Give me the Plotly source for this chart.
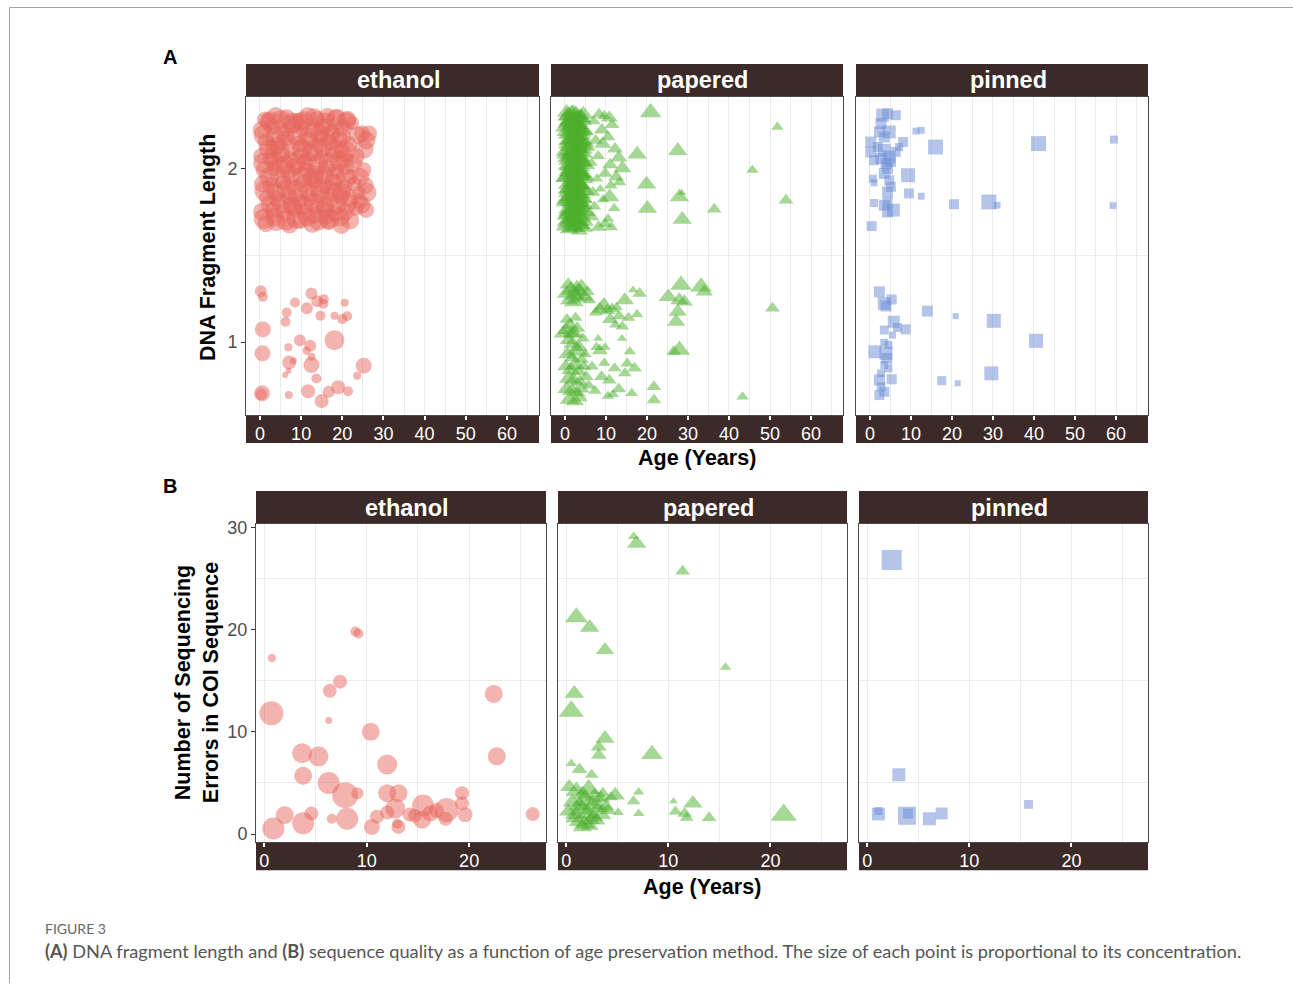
import math
import plotly.graph_objects as go

# ---------------- DATA ----------------
methods = ["ethanol", "papered", "pinned"]
x_ticks_a = [0, 10, 20, 30, 40, 50, 60]
y_ticks_a = [1, 2]
x_ticks_b = [0, 10, 20]
y_ticks_b = [0, 10, 20, 30]

# Panel A : DNA fragment length (jittered categories 1 / 2) vs age; conc = concentration
eth_a_age = [1.2, 3.8, 6.5, 8.9, 11.6, 13.8, 16.4, 18.7, 21.3,
             0.4, 2.9, 5.4, 7.7, 10.3, 12.9, 15.2, 17.5, 20.1, 22.4, 24.8,
             1.5, 4.1, 6.2, 9.4, 11.9, 14.3, 16.8, 19.2, 21.6, 25.9,
             0.3, 2.6, 5.0, 7.5, 10.1, 12.4, 15.0, 17.9, 20.4, 23.5,
             1.1, 3.6, 6.8, 8.6, 11.2, 13.6, 16.1, 18.5, 21.0, 25.1,
             0.6, 2.8, 5.6, 8.1, 10.6, 13.1, 15.6, 17.8, 20.5, 22.9, 25.6,
             1.7, 4.4, 6.9, 9.6, 12.0, 14.6, 17.1, 19.6, 21.8, 24.2,
             0.5, 3.1, 5.8, 8.3, 10.8, 13.3, 15.9, 18.3, 20.9, 23.3, 25.8,
             1.4, 4.0, 7.2, 9.9, 12.7, 16.6, 19.8,
             2.0, 9.8, 14.8, 19.9, 4.8, 12.3, 18.0, 7.6, 16.2, 22.0, 3.3, 10.9, 24.0, 26.5, 14.0,
             2.4, 5.1, 7.9, 10.5, 13.2, 15.8, 18.4, 21.0,
             1.0, 3.7, 6.3, 9.0, 11.7, 14.4, 17.0, 19.7, 23.8,
             2.2, 4.9, 7.6, 10.2, 12.9, 15.5, 18.2, 20.8, 25.3,
             0.9, 3.5, 6.1, 8.8, 11.4, 14.1, 16.7, 19.3, 22.6,
             2.3, 5.0, 7.7, 10.3, 13.0, 15.6, 18.3, 20.9, 24.4,
             1.2, 3.9, 6.5, 9.2, 11.8, 14.5, 17.1, 19.8, 26.0,
             2.6, 5.2, 7.9, 10.5, 13.2, 15.8, 18.5, 21.1, 24.7,
             1.0, 3.6, 6.3, 8.9, 11.5, 14.2, 16.8, 19.5, 21.9,
             0.2, 0.7, 8.5, 12.5, 13.9, 15.5, 15.4, 20.6, 6.5, 11.4, 14.7, 18.1, 20.0, 21.2, 6.2,
             0.7, 18.1, 9.7, 12.2, 6.9, 11.3, 0.6, 7.1, 8.1, 12.5, 12.5, 6.9, 6.1, 25.2, 23.6,
             13.7, 0.5, 0.3, 7.0, 11.7, 15.0, 16.7, 19.0, 21.4]
eth_a_len = [2.28, 2.30, 2.29, 2.27, 2.30, 2.28, 2.30, 2.29, 2.28,
             2.22, 2.24, 2.21, 2.25, 2.23, 2.22, 2.24, 2.21, 2.23, 2.26, 2.20,
             2.15, 2.13, 2.17, 2.14, 2.16, 2.13, 2.15, 2.17, 2.14, 2.16,
             2.07, 2.06, 2.08, 2.05, 2.07, 2.09, 2.06, 2.08, 2.05, 2.07,
             1.99, 2.00, 1.98, 2.01, 1.99, 1.97, 2.00, 1.98, 2.01, 1.99,
             1.91, 1.90, 1.92, 1.89, 1.91, 1.93, 1.90, 1.92, 1.89, 1.91, 1.90,
             1.83, 1.82, 1.84, 1.81, 1.83, 1.85, 1.82, 1.84, 1.83, 1.81,
             1.75, 1.76, 1.74, 1.77, 1.75, 1.73, 1.76, 1.74, 1.75, 1.77, 1.76,
             1.68, 1.69, 1.67, 1.70, 1.68, 1.69, 1.67,
             2.27, 2.27, 2.18, 2.10, 2.02, 1.95, 1.87, 1.79, 1.72, 1.95, 2.12, 2.03, 1.86, 2.20, 1.78,
             2.27, 2.28, 2.26, 2.27, 2.29, 2.26, 2.28, 2.27,
             2.19, 2.18, 2.20, 2.19, 2.18, 2.20, 2.19, 2.18, 2.19,
             2.11, 2.10, 2.12, 2.11, 2.10, 2.12, 2.11, 2.10, 2.11,
             2.03, 2.04, 2.02, 2.03, 2.04, 2.02, 2.03, 2.04, 2.03,
             1.95, 1.94, 1.96, 1.95, 1.94, 1.96, 1.95, 1.94, 1.95,
             1.87, 1.86, 1.88, 1.87, 1.86, 1.88, 1.87, 1.86, 1.86,
             1.79, 1.80, 1.78, 1.79, 1.80, 1.78, 1.79, 1.80, 1.79,
             1.71, 1.72, 1.70, 1.71, 1.72, 1.70, 1.71, 1.72, 1.70,
             1.293, 1.26, 1.228, 1.28, 1.235, 1.247, 1.22, 1.226, 1.17, 1.194, 1.151, 1.151, 1.132, 1.149, 1.117,
             1.073, 1.011, 1.011, 0.979, 0.97, 0.95, 0.935, 0.883, 0.892, 0.868, 0.916, 0.835, 0.81, 0.864, 0.806,
             0.79, 0.705, 0.70, 0.695, 0.717, 0.661, 0.714, 0.74, 0.717]
eth_a_conc = [64, 81, 72, 64, 81, 72, 64, 81, 72,
              81, 64, 72, 81, 64, 72, 81, 64, 72, 49, 64,
              72, 81, 64, 72, 81, 64, 72, 81, 64, 81,
              64, 72, 81, 64, 72, 81, 64, 72, 81, 64,
              81, 64, 72, 81, 64, 72, 81, 64, 72, 64,
              72, 81, 64, 72, 81, 64, 72, 81, 64, 56, 72,
              64, 72, 81, 64, 72, 81, 64, 72, 81, 64,
              81, 64, 72, 81, 64, 72, 81, 64, 72, 56, 64,
              72, 81, 64, 72, 81, 64, 72,
              64, 72, 64, 72, 64, 72, 64, 72, 64, 56, 72, 64, 49, 64, 64,
              100, 90, 110, 100, 90, 110, 100, 90,
              110, 100, 90, 110, 100, 90, 110, 100, 81,
              100, 110, 90, 100, 110, 90, 100, 110, 90,
              110, 90, 100, 110, 90, 100, 110, 90, 81,
              100, 110, 90, 100, 110, 90, 100, 110, 81,
              110, 90, 100, 110, 90, 100, 110, 90, 90,
              100, 110, 90, 100, 110, 90, 100, 110, 81,
              110, 90, 100, 110, 90, 100, 110, 90, 81,
              36, 25, 25, 36, 36, 25, 25, 16, 25, 36, 25, 16, 25, 25, 25,
              64, 100, 36, 36, 16, 16, 64, 49, 12, 64, 16, 9, 9, 64, 16,
              25, 64, 36, 16, 49, 49, 36, 49, 25]

pap_a_age = [0.4, 1.6, 2.7, 3.8, 1.0, 2.2, 3.4, 4.6, 0.3, 1.5, 2.8, 4.0, 5.2,
             0.8, 2.0, 3.2, 4.4, 5.6, 0.2, 1.4, 2.6, 3.7, 4.9, 0.9, 2.1, 3.3, 4.5,
             0.3, 1.6, 2.8, 4.0, 5.3, 0.7, 1.9, 3.1, 4.3, 0.2, 1.3, 2.5, 3.6, 4.8,
             0.8, 2.0, 3.2, 4.4, 0.3, 1.5, 2.7, 3.9, 5.0, 1.1, 2.3, 3.5,
             1.2, 2.4, 3.0, 1.8, 2.9, 1.9, 0.6, 4.1, 3.5, 0.5,
             0.9, 2.1, 3.3, 4.5, 0.4, 1.8, 3.0, 4.3, 0.9, 2.2, 3.5, 4.8, 0.5, 1.8, 3.1, 4.3,
             0.9, 2.4, 3.6, 5.0, 0.4, 1.9, 3.2, 4.5, 1.0, 2.3, 3.5, 4.9, 0.5, 1.8, 3.1, 4.4,
             1.0, 2.4, 3.6, 5.2, 0.5, 2.0, 3.3, 4.4,
             1.4, 2.7, 3.9, 1.2, 2.5, 3.8, 1.5, 2.8, 4.0, 1.3, 2.6, 3.9, 1.4, 2.7, 4.0,
             1.2, 2.5, 3.8, 1.5, 2.8, 4.1, 1.3, 2.6, 3.7, 1.4, 2.9, 0.7, 0.6, 0.8, 0.5,
             2.0, 3.2, 1.7, 2.9, 2.1, 3.4, 1.8, 3.0, 2.2, 3.3, 1.9, 3.1, 2.0, 3.5,
             8.3, 9.6, 10.8, 11.5, 7.0, 9.0, 7.5, 9.2, 10.5, 12.2, 13.1, 8.1, 11.0, 14.0,
             6.5, 9.8, 12.5, 7.8, 11.2, 8.6, 6.8, 13.3, 9.3, 7.2, 12.0, 6.6, 8.2, 9.8, 11.3, 10.5,
             20.9, 51.8, 17.6, 27.5, 45.7, 19.9, 10.9, 27.9, 28.5, 53.9, 20.1, 36.4, 28.6,
             0.4, 1.5, 2.6, 3.5, 4.0, 4.8, 1.0, 2.2, 3.2, 5.5, 6.0, 0.8, 2.9,
             8.5, 9.5, 10.3, 11.5, 7.5, 12.6, 13.2, 11.0, 14.6, 16.6, 18.2, 15.5, 17.6, 14.0, 12.3,
             0.3, 1.2, 2.2, 3.0, 0.8, 1.9, -0.4, 1.6, 2.8, 3.5, 0.6, 1.8, 4.0, 2.5, 0.2, 1.4,
             3.3, 4.6, 0.9, 2.1, 3.6, 5.2, 0.4, 1.7, 2.9, 4.1, 5.8, 1.1, 2.4, 3.6, 0.5, 2.6, 4.4, 5.0,
             8.1, 8.5, 7.7, 9.8, 8.9, 7.3, 10.5, 11.7, 13.1, 12.1, 13.9, 15.8, 15.2, 17.0, 14.6,
             6.6, 9.6, 10.8, 16.3, 21.7, 21.7,
             28.3, 33.2, 34.0, 25.2, 27.9, 29.1, 27.5, 27.1, 27.9, 26.5, 50.6, 43.3]
pap_a_len = [2.32, 2.32, 2.31, 2.30, 2.27, 2.28, 2.25, 2.27, 2.21, 2.20, 2.22, 2.19, 2.21,
             2.14, 2.15, 2.13, 2.16, 2.12, 2.08, 2.07, 2.09, 2.06, 2.08, 2.01, 2.02, 2.00, 2.03,
             1.95, 1.96, 1.94, 1.97, 1.95, 1.88, 1.89, 1.87, 1.90, 1.82, 1.81, 1.83, 1.80, 1.82,
             1.75, 1.76, 1.74, 1.77, 1.69, 1.68, 1.70, 1.67, 1.69, 1.65, 1.66, 1.64,
             2.24, 2.18, 2.05, 1.92, 1.79, 1.71, 1.98, 1.85, 2.11, 2.30,
             2.30, 2.31, 2.29, 2.31, 2.24, 2.23, 2.24, 2.22, 2.16, 2.17, 2.16, 2.15, 2.10, 2.09, 2.10, 2.11,
             2.02, 2.03, 2.01, 2.02, 1.95, 1.94, 1.96, 1.94, 1.88, 1.87, 1.89, 1.87, 1.81, 1.80, 1.81, 1.79,
             1.74, 1.73, 1.74, 1.75, 1.67, 1.66, 1.68, 1.66,
             2.28, 2.27, 2.29, 2.20, 2.19, 2.21, 2.13, 2.12, 2.14, 2.05, 2.06, 2.04, 1.98, 1.99, 1.97,
             1.91, 1.92, 1.90, 1.84, 1.85, 1.83, 1.77, 1.78, 1.76, 1.71, 1.70, 2.26, 2.06, 1.86, 1.73,
             2.25, 2.23, 2.17, 2.15, 2.08, 2.07, 2.00, 1.98, 1.93, 1.91, 1.84, 1.82, 1.76, 1.72,
             2.31, 2.30, 2.29, 2.25, 2.27, 2.22, 2.16, 2.14, 2.18, 2.11, 2.06, 2.07, 2.02, 2.00,
             2.03, 1.97, 1.95, 1.94, 1.90, 1.88, 1.86, 1.92, 1.82, 1.78, 1.77, 1.72, 1.66, 1.68, 1.66, 1.71,
             2.32, 2.237, 2.08, 2.10, 1.99, 1.908, 1.835, 1.835, 1.858, 1.816, 1.769, 1.764, 1.705,
             1.28, 1.30, 1.27, 1.29, 1.32, 1.26, 1.24, 1.23, 1.25, 1.29, 1.24, 1.33, 1.31,
             1.19, 1.21, 1.18, 1.19, 1.17, 1.20, 1.15, 1.13, 1.24, 1.30, 1.28, 1.14, 1.16, 1.09, 1.10,
             1.07, 1.10, 1.05, 1.08, 1.01, 0.99, 1.05, 1.05, 0.95, 0.97, 0.93, 0.91, 0.90, 0.87, 0.86, 0.84,
             0.83, 0.86, 0.79, 0.78, 0.77, 0.80, 0.73, 0.72, 0.71, 0.73, 0.75, 0.67, 0.66, 0.68, 1.13, 1.14, 1.02, 0.93,
             1.02, 0.95, 0.97, 0.97, 0.80, 0.72, 0.69, 0.70, 0.73, 0.85, 1.02, 0.945, 0.877, 0.85, 0.82,
             0.86, 0.88, 0.78, 0.705, 0.743, 0.667,
             1.328, 1.318, 1.289, 1.26, 1.24, 1.232, 1.174, 1.117, 0.954, 0.945, 1.194, 0.686]
pap_a_conc = [72, 64, 72, 56, 81, 64, 72, 49, 72, 81, 64, 72, 49,
              81, 72, 64, 56, 49, 72, 81, 64, 72, 49, 72, 81, 64, 56,
              81, 72, 64, 72, 49, 72, 81, 64, 56, 72, 81, 72, 64, 49,
              81, 72, 64, 56, 72, 81, 72, 64, 56, 72, 64, 56,
              64, 72, 81, 72, 64, 72, 64, 64, 56, 64,
              90, 100, 81, 72, 100, 90, 100, 81, 90, 100, 90, 72, 100, 90, 100, 81,
              90, 100, 90, 72, 100, 90, 100, 81, 90, 100, 90, 72, 100, 90, 100, 81,
              90, 100, 90, 72, 100, 90, 100, 81,
              100, 110, 90, 110, 100, 90, 100, 110, 90, 110, 100, 90, 100, 110, 90,
              110, 100, 90, 100, 110, 90, 110, 100, 90, 100, 110, 81, 81, 81, 81,
              110, 100, 110, 100, 110, 100, 110, 100, 110, 100, 110, 100, 110, 100,
              42, 36, 56, 42, 36, 49, 42, 56, 42, 49, 56, 36, 49, 64,
              30, 42, 49, 30, 36, 25, 42, 36, 30, 36, 30, 42, 49, 42, 36, 30,
              90, 30, 72, 72, 30, 72, 72, 72, 16, 42, 72, 42, 72,
              72, 81, 90, 72, 64, 56, 64, 72, 56, 42, 36, 56, 72,
              56, 72, 49, 42, 36, 30, 42, 49, 64, 20, 42, 36, 30, 36, 30,
              64, 56, 72, 49, 56, 64, 72, 64, 90, 56, 64, 49, 42, 72, 56, 64,
              56, 42, 72, 64, 56, 42, 64, 72, 56, 49, 36, 72, 64, 49, 42, 36, 36, 30,
              20, 49, 30, 25, 42, 36, 30, 30, 42, 36, 20, 30, 36, 42, 36,
              36, 30, 42, 30, 42, 42,
              90, 90, 56, 72, 64, 56, 64, 64, 90, 42, 42, 30]

pin_a_age = [3.1, 4.3, 6.3, 2.7, 2.3, 4.7, 3.5, 11.2, 12.5, 0.2, 8.1, 16.0, 41.1, 59.5,
             0.2, 1.9, 3.5, 4.7, 6.3, 7.1, 2.7, 3.9, 5.1, 1.0, 4.3, 3.5, 9.3, 0.7, 1.0,
             4.7, 5.1, 4.3, 9.5, 12.5, 1.0, 3.5, 4.3, 5.7, 4.3, 20.5, 29.0, 31.0, 59.3, 0.4,
             2.3, 5.3, 3.5, 3.9, 14.0, 20.9, 30.2, 5.8, 6.7, 8.7, 3.5, 5.5, 40.5, 3.5, 4.5,
             1.2, 3.9, 4.1, 3.5, 4.5, 2.7, 29.6, 2.3, 5.3, 17.5, 21.4, 2.7, 3.5, 2.3]
pin_a_len = [2.305, 2.314, 2.305, 2.257, 2.209, 2.209, 2.18, 2.214, 2.218, 2.151, 2.151, 2.122, 2.142, 2.165,
             2.094, 2.122, 2.103, 2.065, 2.094, 2.122, 2.056, 2.027, 2.036, 2.046, 1.998, 1.97, 1.96, 1.94, 1.916,
             1.931, 1.893, 1.864, 1.855, 1.839, 1.80, 1.787, 1.806, 1.759, 1.749, 1.793, 1.806, 1.787, 1.785, 1.667,
             1.289, 1.245, 1.222, 1.207, 1.178, 1.149, 1.122, 1.117, 1.084, 1.073, 1.069, 1.04, 1.007, 0.996, 0.983,
             0.944, 0.935, 0.906, 0.868, 0.849, 0.82, 0.82, 0.782, 0.786, 0.778, 0.763, 0.743, 0.714, 0.695]
pin_a_conc = [42, 30, 25, 30, 30, 42, 30, 12, 12, 30, 25, 56, 56, 16,
              30, 25, 42, 42, 25, 16, 30, 30, 25, 25, 30, 30, 49, 16, 12,
              25, 25, 30, 25, 12, 16, 30, 25, 42, 30, 25, 56, 12, 12, 25,
              30, 25, 42, 30, 30, 9, 49, 36, 20, 25, 20, 12, 49, 16, 16,
              42, 42, 30, 16, 16, 16, 49, 30, 25, 20, 9, 20, 25, 25]

# Panel B : number of sequencing errors vs age
eth_b_age = [0.75, 8.9, 9.2, 0.7, 6.4, 7.4, 6.3, 10.4, 3.7, 5.3, 22.4, 22.7, 12.0, 3.8, 6.3,
             7.9, 9.1, 12.0, 13.1, 19.3, 19.3, 0.9, 2.0, 3.8, 4.6, 6.6, 8.1, 10.5, 11.0, 12.0,
             12.8, 13.1, 13.0, 14.2, 14.7, 15.4, 15.5, 16.2, 16.8, 17.7, 17.8, 19.6, 26.2]
eth_b_err = [17.2, 19.8, 19.6, 11.8, 14.0, 14.9, 11.1, 10.0, 7.9, 7.6, 13.7, 7.6, 6.8, 5.7, 5.0,
             3.8, 4.0, 4.0, 4.0, 4.0, 3.0, 0.55, 1.86, 1.05, 2.0, 1.5, 1.5, 0.7, 1.7, 2.1,
             2.5, 0.7, 1.0, 1.9, 1.8, 1.4, 2.8, 2.0, 2.3, 1.5, 2.35, 1.9, 1.95]
eth_b_conc = [16, 25, 25, 144, 49, 49, 12, 81, 100, 100, 81, 81, 100, 81, 121,
              169, 36, 81, 81, 49, 49, 121, 81, 121, 49, 25, 121, 64, 49, 49,
              100, 49, 25, 49, 49, 81, 121, 64, 56, 49, 144, 56, 49]

pap_b_age = [6.6, 6.9, 11.4, 1.0, 2.3, 3.8, 15.6, 0.8, 0.5, 3.8, 3.2, 3.2, 8.4, 0.5, 1.3, 2.5,
             4.8, 7.1, 6.6, 5.1, 7.1, 10.5, 12.4, 10.7, 11.6, 11.8, 14.0, 21.3,
             0.3, 1.0, 1.6, 2.2, 2.8, 3.4, 0.6, 1.3, 1.9, 2.6, 3.2, 3.9, 0.2, 0.9, 1.5,
             2.1, 2.7, 3.4, 4.1, 1.2, 1.8, 2.4, 3.0, 0.7, 1.6, 2.3, 4.4, 3.6]
pap_b_err = [29.1, 28.4, 25.7, 21.2, 20.2, 18.0, 16.3, 13.75, 12.0, 9.35, 8.5, 7.7, 7.8, 6.9, 6.3, 5.8,
             3.8, 4.1, 3.2, 2.1, 2.0, 3.2, 3.0, 2.2, 2.0, 1.6, 1.6, 1.86,
             4.6, 4.2, 3.9, 4.4, 3.7, 3.5, 3.1, 2.8, 3.3, 2.9, 2.6, 2.7, 2.2, 1.9, 2.4,
             2.0, 1.7, 1.9, 2.3, 1.2, 1.0, 1.4, 1.3, 1.5, 0.7, 0.8, 3.6, 4.0]
pap_b_conc = [25, 72, 42, 100, 72, 64, 25, 72, 121, 72, 49, 49, 90, 25, 49, 36,
              72, 25, 36, 25, 25, 16, 72, 36, 42, 36, 42, 132,
              64, 90, 72, 100, 81, 64, 72, 100, 121, 90, 81, 56, 64, 81, 90,
              100, 72, 81, 49, 72, 81, 64, 56, 49, 72, 64, 36, 42]

pin_b_age = [2.4, 3.1, 1.1, 1.1, 3.9, 4.0, 6.1, 7.3, 15.8]
pin_b_err = [26.8, 5.8, 1.95, 2.25, 1.8, 2.0, 1.5, 2.0, 2.9]
pin_b_conc = [100, 42, 42, 16, 81, 25, 42, 36, 20]

# ---------------- STYLE / LAYOUT ----------------
W, H = 1293, 985
STRIP = "#3b2a27"
FONT = "Liberation Sans, Arial, sans-serif"
colors = {"ethanol": "#E8675E", "papered": "#4CAF2C", "pinned": "#6B8CD5"}
symbols = {"ethanol": "circle", "papered": "triangle-up", "pinned": "square"}

rows = {
    "A": dict(xpx=[(246, 539), (551, 843), (856, 1148)], plot=(97, 415), strip=(64, 97), band=(415, 443),
              xrange=[-3.4, 67.8], yrange=[0.58, 2.41], xticks=x_ticks_a, yticks=y_ticks_a,
              ydtick=1, ytick0=1, yminor=0.5, xminor=5),
    "B": dict(xpx=[(256, 546), (558, 847), (859, 1148)], plot=(524, 842), strip=(491, 524), band=(842, 870),
              xrange=[-0.8, 27.5], yrange=[-0.8, 30.3], xticks=x_ticks_b, yticks=y_ticks_b,
              ydtick=10, ytick0=0, yminor=5, xminor=5),
}

data = {
    "A": [(eth_a_age, eth_a_len, eth_a_conc), (pap_a_age, pap_a_len, pap_a_conc), (pin_a_age, pin_a_len, pin_a_conc)],
    "B": [(eth_b_age, eth_b_err, eth_b_conc), (pap_b_age, pap_b_err, pap_b_conc), (pin_b_age, pin_b_err, pin_b_conc)],
}

# vertical calibration of the page as it is photographed
Y_OFF, Y_SCALE = 7.07, 0.9905


def fx(px):
    return px / W


def fy(py):
    return 1 - ((py - Y_OFF) / Y_SCALE) / H


fig = go.Figure()
layout = dict(width=W, height=H, margin=dict(l=0, r=0, t=0, b=0), paper_bgcolor="white",
              plot_bgcolor="white", showlegend=False, font=dict(family=FONT))
shapes, annotations = [], []

k = 0
for rname in ["A", "B"]:
    R = rows[rname]
    for j, m in enumerate(methods):
        k += 1
        xa = "x" if k == 1 else f"x{k}"
        ya = "y" if k == 1 else f"y{k}"
        x0, x1 = R["xpx"][j]
        ages, vals, conc = data[rname][j]
        fig.add_trace(go.Scatter(
            x=ages, y=vals, mode="markers", xaxis=xa, yaxis=ya, hoverinfo="skip",
            marker=dict(symbol=symbols[m], color=colors[m], opacity=0.5,
                        size=[2 * math.sqrt(c) for c in conc], line=dict(width=0)),
        ))
        layout["xaxis" if k == 1 else f"xaxis{k}"] = dict(
            domain=[fx(x0), fx(x1)], anchor=ya, range=R["xrange"],
            tickmode="array", tickvals=R["xticks"], ticktext=[str(t) for t in R["xticks"]],
            ticks="outside", ticklen=4, tickwidth=1.5, tickcolor="white", ticklabelstandoff=-2,
            tickfont=dict(size=18, color="white", family=FONT),
            showgrid=False, zeroline=False, showline=True, linecolor="#4a4a4a", linewidth=1, mirror=True,
            minor=dict(dtick=R["xminor"], tick0=0, showgrid=True, gridcolor="#ebebeb", gridwidth=1, ticks=""),
        )
        layout["yaxis" if k == 1 else f"yaxis{k}"] = dict(
            domain=[fy(R["plot"][1]), fy(R["plot"][0])], anchor=xa, range=R["yrange"],
            tickmode="linear", tick0=R["ytick0"], dtick=R["ydtick"],
            ticks="outside" if j == 0 else "", ticklen=4, tickwidth=1, tickcolor="#333333",
            showticklabels=(j == 0), tickfont=dict(size=18, color="#4d4d4d", family=FONT),
            showgrid=False, zeroline=False, showline=True, linecolor="#4a4a4a", linewidth=1, mirror=True,
            minor=dict(dtick=R["yminor"], showgrid=True, gridcolor="#ebebeb", gridwidth=1, ticks=""),
        )
        # strip header
        s0, s1 = R["strip"]
        shapes.append(dict(type="rect", xref="paper", yref="paper", x0=fx(x0), x1=fx(x1),
                           y0=fy(s1), y1=fy(s0), fillcolor=STRIP, line=dict(width=0), layer="below"))
        annotations.append(dict(text=f"<b>{m}</b>", xref="paper", yref="paper",
                                x=fx((x0 + x1) / 2 + 6), y=fy((s0 + s1) / 2), showarrow=False,
                                font=dict(size=23.5, color="white", family=FONT),
                                xanchor="center", yanchor="middle"))
        # x axis band
        b0, b1 = R["band"]
        shapes.append(dict(type="rect", xref="paper", yref="paper", x0=fx(x0), x1=fx(x1),
                           y0=fy(b1), y1=fy(b0), fillcolor=STRIP, line=dict(width=0), layer="below"))

# panel letters
annotations.append(dict(text="<b>A</b>", xref="paper", yref="paper", x=fx(170), y=fy(57), showarrow=False,
                        font=dict(size=20, color="black", family=FONT), xanchor="center", yanchor="middle"))
annotations.append(dict(text="<b>B</b>", xref="paper", yref="paper", x=fx(170), y=fy(486), showarrow=False,
                        font=dict(size=20, color="black", family=FONT), xanchor="center", yanchor="middle"))
# axis titles
annotations.append(dict(text="<b>DNA Fragment Length</b>", xref="paper", yref="paper", x=fx(208), y=fy(248),
                        showarrow=False, textangle=-90, font=dict(size=21.5, color="black", family=FONT),
                        xanchor="center", yanchor="middle"))
annotations.append(dict(text="<b>Number of Sequencing<br>Errors in COI Sequence</b>", xref="paper", yref="paper",
                        x=fx(197), y=fy(683), showarrow=False, textangle=-90,
                        font=dict(size=21.5, color="black", family=FONT), xanchor="center", yanchor="middle"))
annotations.append(dict(text="<b>Age (Years)</b>", xref="paper", yref="paper", x=fx(697), y=fy(458),
                        showarrow=False, font=dict(size=21.5, color="black", family=FONT),
                        xanchor="center", yanchor="middle"))
annotations.append(dict(text="<b>Age (Years)</b>", xref="paper", yref="paper", x=fx(702), y=fy(887),
                        showarrow=False, font=dict(size=21.5, color="black", family=FONT),
                        xanchor="center", yanchor="middle"))
# caption
annotations.append(dict(text="FIGURE 3", xref="paper", yref="paper", x=fx(43), y=fy(928), showarrow=False,
                        font=dict(size=14, color="#666666", family="Lato, sans-serif"),
                        xanchor="left", yanchor="middle"))
annotations.append(dict(text="<b>(A)</b> DNA fragment length and <b>(B)</b> sequence quality as a function of age "
                             "preservation method. The size of each point is proportional to its concentration.",
                        xref="paper", yref="paper", x=fx(43), y=fy(951), showarrow=False,
                        font=dict(size=18.2, color="#555555", family="Lato, sans-serif"),
                        xanchor="left", yanchor="middle"))
# outer frame
shapes.append(dict(type="line", xref="paper", yref="paper", x0=fx(9.5), x1=1, y0=fy(7.6), y1=fy(7.6),
                   line=dict(color="#a0a0a0", width=1)))
shapes.append(dict(type="line", xref="paper", yref="paper", x0=fx(9.5), x1=fx(9.5), y0=0, y1=fy(7.6),
                   line=dict(color="#a0a0a0", width=1)))

layout["shapes"] = shapes
layout["annotations"] = annotations
fig.update_layout(**layout)
fig.write_html(
    "out.html",
    config={"displayModeBar": False},
    post_script=("document.documentElement.style.margin='0';document.body.style.margin='0';"
                 "document.body.style.overflow='hidden';"
                 "var g=document.querySelector('.plotly-graph-div');"
                 "g.style.position='absolute';g.style.top='0px';g.style.left='0px';"),
)
